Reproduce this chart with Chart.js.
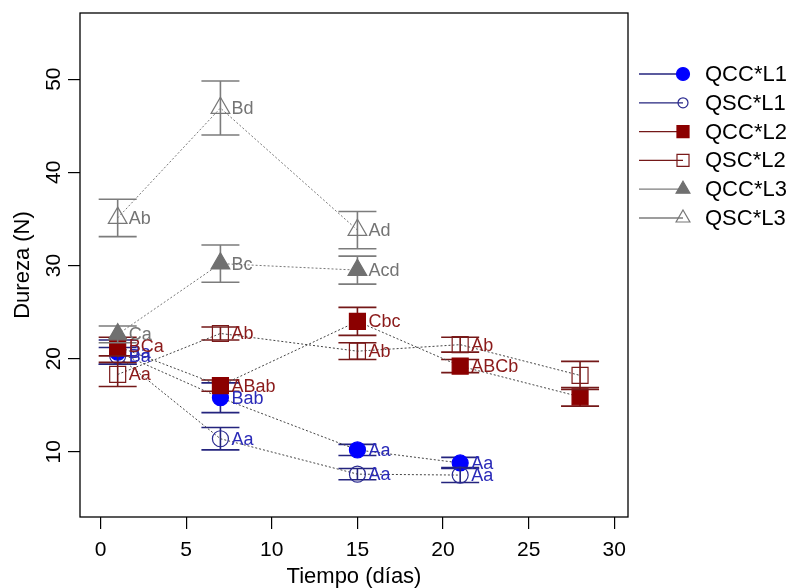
<!DOCTYPE html>
<html>
<head>
<meta charset="utf-8">
<script src="https://cdn.jsdelivr.net/npm/chart.js@4.4.0/dist/chart.umd.min.js"></script>
<style>
  body { margin: 0; background: #fff; }
  #wrap { width: 795px; height: 588px; }
</style>
</head>
<body>
<div id="wrap"><canvas id="cv"></canvas></div>
<script>
//-------------------Data-------------------
const days = [1, 7, 15, 21, 28];
const xTicks = [0, 5, 10, 15, 20, 25, 30];
const yTicks = [10, 20, 30, 40, 50];

const qccL1 = [20.7, 15.8, 10.2, 8.8];
const qccL1Err = [1.3, 1.6, 0.6, 0.6];
const qccL1Labels = ['Ba', 'Bab', 'Aa', 'Aa'];

const qscL1 = [20.3, 11.4, 7.6, 7.5];
const qscL1Err = [0.9, 1.2, 0.6, 0.8];
const qscL1Labels = ['Ba', 'Aa', 'Aa', 'Aa'];

const qccL2 = [21.3, 17.1, 24.0, 19.2, 15.9];
const qccL2Err = [1.0, 0.6, 1.5, 0.7, 1.0];
const qccL2Labels = ['BCa', 'ABab', 'Cbc', 'ABCb', ''];

const qscL2 = [18.3, 22.7, 20.8, 21.5, 18.2];
const qscL2Err = [1.3, 0.7, 0.9, 0.8, 1.5];
const qscL2Labels = ['Aa', 'Ab', 'Ab', 'Ab', ''];

const qccL3 = [22.6, 30.2, 29.5];
const qccL3Err = [0.9, 2.0, 1.5];
const qccL3Labels = ['Ca', 'Bc', 'Acd'];

const qscL3 = [35.1, 46.9, 33.8];
const qscL3Err = [2.0, 2.9, 2.0];
const qscL3Labels = ['Ab', 'Bd', 'Ad'];

const seriesNames = ['QCC*L1', 'QSC*L1', 'QCC*L2', 'QSC*L2', 'QCC*L3', 'QSC*L3'];

//-------------------Functions-------------------
const FONT = '"Liberation Sans", Arial, sans-serif';

function makeSet(name, vals, errs, labels, style) {
  return {
    label: name,
    data: vals.map((v, i) => ({ x: days[i], y: v })),
    errs: errs,
    texts: labels,
    showLine: true,
    borderColor: style.line,
    borderWidth: 1,
    borderDash: [2, 2],
    pointStyle: style.shape,
    pointRadius: style.r,
    pointHoverRadius: style.r,
    pointBackgroundColor: style.fill,
    pointBorderColor: style.edge,
    pointBorderWidth: 1.2,
    barColor: style.bar,
    textColor: style.text,
    legendR: style.lr,
    order: style.order
  };
}

const blueBar = '#24247e', redBar = '#741818', grayBar = '#7c7c7c';

const datasets = [
  makeSet(seriesNames[0], qccL1, qccL1Err, qccL1Labels,
    { shape: 'circle', r: 8, fill: '#0000ff', edge: '#0000ff', line: '#444', bar: blueBar, text: '#2a2ab8', lr: 6.5, order: 6 }),
  makeSet(seriesNames[1], qscL1, qscL1Err, qscL1Labels,
    { shape: 'circle', r: 8, fill: 'rgba(0,0,0,0)', edge: '#2a2a90', line: '#444', bar: blueBar, text: '#2a2ab8', lr: 5, order: 5 }),
  makeSet(seriesNames[2], qccL2, qccL2Err, qccL2Labels,
    { shape: 'rect', r: 11.3, fill: '#8b0000', edge: '#8b0000', line: '#444', bar: redBar, text: '#8b1a1a', lr: 8.5, order: 4 }),
  makeSet(seriesNames[3], qscL2, qscL2Err, qscL2Labels,
    { shape: 'rect', r: 11.3, fill: 'rgba(0,0,0,0)', edge: '#7a1a1a', line: '#444', bar: redBar, text: '#8b1a1a', lr: 8.5, order: 3 }),
  makeSet(seriesNames[4], qccL3, qccL3Err, qccL3Labels,
    { shape: 'triangle', r: 10.8, fill: '#707070', edge: '#707070', line: '#777', bar: grayBar, text: '#747474', lr: 8, order: 2 }),
  makeSet(seriesNames[5], qscL3, qscL3Err, qscL3Labels,
    { shape: 'triangle', r: 10.8, fill: 'rgba(0,0,0,0)', edge: '#777', line: '#777', bar: grayBar, text: '#747474', lr: 8, order: 1 })
];

//error bars, drawn just before each series' own markers
const errorBars = {
  id: 'errorBars',
  beforeDatasetDraw(chart, args) {
    const ds = chart.data.datasets[args.index];
    const xs = chart.scales.x, ys = chart.scales.y;
    const ctx = chart.ctx;
    const cap = 19;
    ctx.save();
    ctx.strokeStyle = ds.barColor;
    ctx.lineWidth = 1.6;
    ds.data.forEach((p, i) => {
      const px = xs.getPixelForValue(p.x);
      const top = ys.getPixelForValue(p.y + ds.errs[i]);
      const bot = ys.getPixelForValue(p.y - ds.errs[i]);
      ctx.beginPath();
      ctx.moveTo(px, top); ctx.lineTo(px, bot);
      ctx.moveTo(px - cap, top); ctx.lineTo(px + cap, top);
      ctx.moveTo(px - cap, bot); ctx.lineTo(px + cap, bot);
      ctx.stroke();
    });
    ctx.restore();
  }
};

//letters beside points, frame, axis texts, legend
const decorations = {
  id: 'decorations',
  afterDatasetsDraw(chart) {
    const xs = chart.scales.x, ys = chart.scales.y;
    const ctx = chart.ctx;
    ctx.save();
    ctx.font = '18px ' + FONT;
    ctx.textAlign = 'left';
    ctx.textBaseline = 'middle';
    chart.data.datasets.forEach(ds => {
      ctx.fillStyle = ds.textColor;
      ds.data.forEach((p, i) => {
        if (!ds.texts[i]) return;
        ctx.fillText(ds.texts[i], xs.getPixelForValue(p.x) + 11, ys.getPixelForValue(p.y) + 1);
      });
    });
    ctx.restore();
  },
  afterDraw(chart) {
    const a = chart.chartArea;
    const xs = chart.scales.x, ys = chart.scales.y;
    const ctx = chart.ctx;
    ctx.save();
    //box
    ctx.strokeStyle = '#000';
    ctx.lineWidth = 1.3;
    ctx.strokeRect(a.left, a.top, a.right - a.left, a.bottom - a.top);

    ctx.fillStyle = '#000';
    ctx.font = '21px ' + FONT;
    //x tick labels
    ctx.textAlign = 'center';
    ctx.textBaseline = 'middle';
    xTicks.forEach(v => ctx.fillText(String(v), xs.getPixelForValue(v), 550));
    //y tick labels, rotated like R
    yTicks.forEach(v => {
      ctx.save();
      ctx.translate(54, ys.getPixelForValue(v));
      ctx.rotate(-Math.PI / 2);
      ctx.fillText(String(v), 0, 0);
      ctx.restore();
    });
    //titles
    ctx.font = '22px ' + FONT;
    ctx.fillText('Tiempo (días)', (a.left + a.right) / 2, 577);
    ctx.save();
    ctx.translate(23, (a.top + a.bottom) / 2);
    ctx.rotate(-Math.PI / 2);
    ctx.fillText('Dureza (N)', 0, 0);
    ctx.restore();

    //legend
    ctx.font = '22px ' + FONT;
    ctx.textAlign = 'left';
    chart.data.datasets.forEach((ds, i) => {
      const y = 74 + i * 28.8;
      ctx.strokeStyle = ds.barColor;
      ctx.lineWidth = 1.3;
      ctx.setLineDash([]);
      ctx.beginPath();
      ctx.moveTo(639, y); ctx.lineTo(683, y);
      ctx.stroke();
      ctx.fillStyle = ds.pointBackgroundColor;
      ctx.strokeStyle = ds.pointBorderColor;
      ctx.lineWidth = 1.2;
      Chart.helpers.drawPoint(ctx, { pointStyle: ds.pointStyle, radius: ds.legendR, borderWidth: 1.2 }, 683, y);
      ctx.fillStyle = '#000';
      ctx.fillText(ds.label, 705, y + 1);
    });
    ctx.restore();
  }
};

//-------------------Chart-------------------
const ctx = document.getElementById('cv').getContext('2d');
const chart = new Chart(ctx, {
  type: 'scatter',
  data: { datasets: datasets },
  options: {
    responsive: true,
    maintainAspectRatio: false,
    animation: false,
    events: [],
    layout: { padding: { left: 0, top: 13, right: 167, bottom: 0 } },
    plugins: { legend: { display: false }, tooltip: { enabled: false } },
    scales: {
      x: {
        type: 'linear',
        min: -1.2,
        max: 30.8,
        afterBuildTicks: s => { s.ticks = xTicks.map(v => ({ value: v })); },
        afterFit: s => { s.height = 71; },
        ticks: { display: false },
        border: { display: false },
        grid: { drawOnChartArea: false, drawTicks: true, tickLength: 12, color: '#000', lineWidth: 1.2 }
      },
      y: {
        type: 'linear',
        min: 3.0,
        max: 57.1,
        afterBuildTicks: s => { s.ticks = yTicks.map(v => ({ value: v })); },
        afterFit: s => { s.width = 80; },
        ticks: { display: false },
        border: { display: false },
        grid: { drawOnChartArea: false, drawTicks: true, tickLength: 12, color: '#000', lineWidth: 1.2 }
      }
    }
  },
  plugins: [errorBars, decorations]
});
</script>
</body>
</html>
